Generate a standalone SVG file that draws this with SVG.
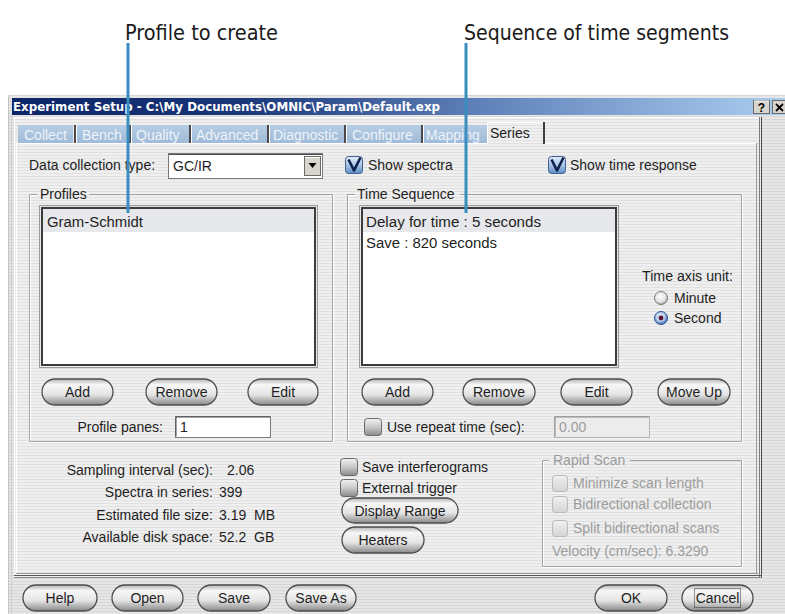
<svg xmlns="http://www.w3.org/2000/svg" width="785" height="614" viewBox="0 0 785 614">
  <defs>
    <!-- pinstripe dialog background -->
    <pattern id="stripes" width="4" height="3" patternUnits="userSpaceOnUse">
      <rect width="4" height="3" fill="#efefef"/>
      <rect y="2" width="4" height="1" fill="#e1e1e1"/>
    </pattern>
    <pattern id="stripesDark" width="4" height="3" patternUnits="userSpaceOnUse">
      <rect width="4" height="3" fill="#e6e6e6"/>
      <rect y="2" width="4" height="1" fill="#d6d6d6"/>
    </pattern>
    <linearGradient id="titleGrad" x1="0" y1="0" x2="1" y2="0">
      <stop offset="0" stop-color="#0c2468"/>
      <stop offset="0.3" stop-color="#1b3779"/>
      <stop offset="0.6" stop-color="#5f80b8"/>
      <stop offset="1" stop-color="#abcdf0"/>
    </linearGradient>
    <linearGradient id="btnGrad" x1="0" y1="0" x2="0" y2="1">
      <stop offset="0" stop-color="#b4b4b4"/>
      <stop offset="0.22" stop-color="#f7f7f7"/>
      <stop offset="0.6" stop-color="#e4e4e4"/>
      <stop offset="1" stop-color="#888888"/>
    </linearGradient>
    <linearGradient id="boxGrad" x1="0" y1="0" x2="0" y2="1">
      <stop offset="0" stop-color="#f2f2f2"/>
      <stop offset="0.5" stop-color="#c9c9c9"/>
      <stop offset="1" stop-color="#8a8a8a"/>
    </linearGradient>
    <linearGradient id="boxOffGrad" x1="0" y1="0" x2="0" y2="1">
      <stop offset="0" stop-color="#f0f0f0"/>
      <stop offset="1" stop-color="#d4d4d4"/>
    </linearGradient>
    <linearGradient id="checkGrad" x1="0" y1="0" x2="0" y2="1">
      <stop offset="0" stop-color="#e2eefa"/>
      <stop offset="0.5" stop-color="#a9c6e6"/>
      <stop offset="1" stop-color="#5d8cc4"/>
    </linearGradient>
    <linearGradient id="tabGrad" x1="0" y1="0" x2="0" y2="1">
      <stop offset="0" stop-color="#b7cde4"/>
      <stop offset="1" stop-color="#9fbbd9"/>
    </linearGradient>
    <radialGradient id="radioOff" cx="0.45" cy="0.4" r="0.6">
      <stop offset="0" stop-color="#ffffff"/>
      <stop offset="0.7" stop-color="#e2e2e2"/>
      <stop offset="1" stop-color="#9a9a9a"/>
    </radialGradient>
    <radialGradient id="radioOn" cx="0.45" cy="0.4" r="0.6">
      <stop offset="0" stop-color="#eef4fc"/>
      <stop offset="0.55" stop-color="#b8cff0"/>
      <stop offset="1" stop-color="#3a66b0"/>
    </radialGradient>
  </defs>
  <style>
    text { font-family: "Liberation Sans", Arial, sans-serif; font-size: 14px; fill: #1e1e1e; }
    .callout { font-family: "Liberation Sans Narrow", "DejaVu Sans Condensed", "Liberation Sans", sans-serif; font-size: 21px; fill: #1a1a1a; }
    .title { font-family: "DejaVu Sans", Verdana, sans-serif; font-weight: bold; font-size: 12.5px; fill: #ffffff; }
    .tab rect { fill: url(#tabGrad); }
    .tab text { fill: #eef3f9; }
    .sep { stroke: #4a4a4a; stroke-width: 2; }
    .sepHi { stroke: #ffffff; stroke-width: 1; }
    .btn .face { fill: url(#btnGrad); stroke: #4e4e4e; stroke-width: 1.3; }
    .btn text { text-anchor: middle; }
    .focus { fill: none; stroke: #333333; stroke-width: 1; stroke-dasharray: 1 1; }
    .box { fill: url(#boxGrad); stroke: #6a6a6a; stroke-width: 1; }
    .boxOff { fill: url(#boxOffGrad); stroke: #b9b9b9; stroke-width: 1; }
    .etch { fill: none; stroke: #a2a2a2; stroke-width: 1; }
    .etchHi { fill: none; stroke: #ffffff; stroke-width: 1; }
    .list { fill: #ffffff; stroke: #3c3c3c; stroke-width: 2; }
    .listOuter { fill: none; stroke: #9a9a9a; stroke-width: 1; }
    .field { fill: #ffffff; stroke: #7a7a7a; stroke-width: 1; }
    .disabled { fill: #9c9c9c; }
    .link { stroke: #3a8dbf; stroke-width: 3; fill: none; }
    .row { fill: #e7e8eb; }
  </style>

  <!-- page -->
  <rect width="785" height="614" fill="#ffffff"/>

  <!-- window body -->
  <g id="window">
    <rect x="8" y="95" width="777" height="519" fill="url(#stripesDark)"/>
    <line x1="8.5" y1="95" x2="8.5" y2="614" stroke="#c4c4c4"/>
    <line x1="11.5" y1="115" x2="11.5" y2="614" stroke="#cfcfcf"/>
    <rect x="12" y="98" width="773" height="17" fill="url(#titleGrad)"/>
    <text class="title" x="13" y="111" textLength="427" lengthAdjust="spacingAndGlyphs">Experiment Setup - C:\My Documents\OMNIC\Param\Default.exp</text>
    <!-- help / close buttons -->
    <rect x="753.5" y="100.5" width="16" height="13" fill="#d8d5ce" stroke="#6a6a6a"/>
    <line x1="754" y1="101" x2="769" y2="101" stroke="#ffffff"/>
    <text x="761.5" y="112" style="font-weight:bold;font-size:12px;text-anchor:middle;fill:#000">?</text>
    <rect x="772.5" y="100.5" width="16" height="13" fill="#d8d5ce" stroke="#6a6a6a"/>
    <path d="M776,104 L783,111 M783,104 L776,111" stroke="#000" stroke-width="1.8"/>
  </g>

  <!-- tab frame -->
  <g id="frame">
    <rect x="14" y="117" width="748" height="461" fill="url(#stripes)"/>
    <line x1="14" y1="117.5" x2="760" y2="117.5" stroke="#ffffff"/>
    <line x1="14.5" y1="117" x2="14.5" y2="578" stroke="#ffffff"/>
    <line x1="759.5" y1="117" x2="759.5" y2="578" stroke="#7c7c7c"/>
    <line x1="761.5" y1="117" x2="761.5" y2="578" stroke="#4a4a4a"/>
    <!-- panel -->
    <line x1="16.5" y1="143" x2="16.5" y2="575" stroke="#ffffff"/>
    <line x1="16" y1="143.5" x2="488" y2="143.5" stroke="#ffffff"/>
    <line x1="544" y1="143.5" x2="756" y2="143.5" stroke="#ffffff"/>
    <line x1="756.5" y1="143" x2="756.5" y2="574" stroke="#9a9a9a"/>
    <line x1="16" y1="573.5" x2="758" y2="573.5" stroke="#9a9a9a"/>
    <line x1="14" y1="575.5" x2="762" y2="575.5" stroke="#5a5a5a"/>
    <line x1="14" y1="577.5" x2="762" y2="577.5" stroke="#8a8a8a"/>
  </g>

  <!-- tabs -->
  <g id="tabs">
    <g class="tab" id="tab-collect"><rect x="18" y="125" width="55" height="18"/><text x="24" y="140">Collect</text></g>
    <g class="tab" id="tab-bench"><rect x="77" y="125" width="51" height="18"/><text x="82" y="140">Bench</text></g>
    <g class="tab" id="tab-quality"><rect x="132" y="125" width="57" height="18"/><text x="136" y="140">Quality</text></g>
    <g class="tab" id="tab-advanced"><rect x="192" y="125" width="75" height="18"/><text x="196" y="140">Advanced</text></g>
    <g class="tab" id="tab-diagnostic"><rect x="270" y="125" width="74" height="18"/><text x="273" y="140">Diagnostic</text></g>
    <g class="tab" id="tab-configure"><rect x="347" y="125" width="74" height="18"/><text x="352" y="140">Configure</text></g>
    <g class="tab" id="tab-mapping"><rect x="424" y="125" width="63" height="18"/><text x="426" y="140">Mapping</text></g>
    <path class="sep" d="M75,125 V143 M130,125 V143 M190,125 V143 M268,125 V143 M345,125 V143 M422,125 V143"/>
    <path class="sepHi" d="M76.5,125 V143 M131.5,125 V143 M191.5,125 V143 M269.5,125 V143 M346.5,125 V143 M423.5,125 V143"/>
    <g id="tab-series">
      <rect x="487" y="122" width="57" height="23" fill="url(#stripes)"/>
      <path d="M487.5,145 V122.5 H543" fill="none" stroke="#ffffff"/>
      <line x1="544" y1="122" x2="544" y2="144" stroke="#3e3e3e" stroke-width="2"/>
      <text x="490" y="138">Series</text>
    </g>
  </g>

  <!-- top row -->
  <g id="data-type">
    <text x="29" y="170">Data collection type:</text>
    <rect class="field" x="168.5" y="153.5" width="154" height="25"/>
    <line x1="169" y1="154.5" x2="322" y2="154.5" stroke="#4a4a4a"/>
    <text x="173" y="171">GC/IR</text>
    <rect x="304.5" y="156.5" width="16" height="19" fill="#d8d5ce" stroke="#6a6a6a"/>
    <line x1="305" y1="157.5" x2="320" y2="157.5" stroke="#ffffff"/>
    <path d="M308.5,163 H316.5 L312.5,168 Z" fill="#000"/>
  </g>
  <g id="show-spectra">
    <rect x="345.5" y="156.5" width="17" height="17" rx="3" fill="url(#checkGrad)" stroke="#3f5f8e"/>
    <path d="M348.5,159.5 L354,170.5 L360.5,157.5" fill="none" stroke="#0e1f4a" stroke-width="2.6" stroke-linejoin="round"/>
    <text x="368" y="170">Show spectra</text>
  </g>
  <g id="show-time-response">
    <rect x="548.5" y="156.5" width="17" height="17" rx="3" fill="url(#checkGrad)" stroke="#3f5f8e"/>
    <path d="M551.5,159.5 L557,170.5 L563.5,157.5" fill="none" stroke="#0e1f4a" stroke-width="2.6" stroke-linejoin="round"/>
    <text x="570" y="170">Show time response</text>
  </g>

  <!-- Profiles group -->
  <g id="profiles">
    <path class="etch" d="M37,194.5 H29.5 V441.5 H332.5 V194.5 H89"/>
    <path class="etchHi" d="M37,195.5 H30.5 V440.5 M29,442.5 H333.5 V194"/>
    <text x="40" y="199">Profiles</text>
    <rect class="listOuter" x="39.5" y="205.5" width="278" height="162"/>
    <rect class="list" x="42" y="208" width="273" height="157"/>
    <rect class="row" x="43" y="209" width="271" height="23"/>
    <text x="47" y="227" textLength="96" lengthAdjust="spacingAndGlyphs">Gram-Schmidt</text>
  </g>
  <g id="profiles-add" class="btn"><rect class="face" x="42" y="379" width="71" height="26" rx="13"/><text x="77.5" y="397">Add</text></g>
  <g id="profiles-remove" class="btn"><rect class="face" x="146" y="379" width="71" height="26" rx="13"/><text x="181.5" y="397">Remove</text></g>
  <g id="profiles-edit" class="btn"><rect class="face" x="248" y="379" width="70" height="26" rx="13"/><text x="283" y="397">Edit</text></g>
  <g id="profile-panes">
    <text x="163" y="432" style="text-anchor:end">Profile panes:</text>
    <rect class="field" x="175.5" y="416.5" width="95" height="21"/>
    <path d="M176,436.5 V417 H270" fill="none" stroke="#4a4a4a"/>
    <text x="180" y="432">1</text>
  </g>

  <!-- Time Sequence group -->
  <g id="time-sequence">
    <path class="etch" d="M355,194.5 H347.5 V441.5 H741.5 V194.5 H460"/>
    <path class="etchHi" d="M355,195.5 H348.5 V440.5 M347,442.5 H742.5 V194"/>
    <text x="357" y="199">Time Sequence</text>
    <rect class="listOuter" x="359.5" y="205.5" width="259" height="162"/>
    <rect class="list" x="362" y="208" width="254" height="157"/>
    <rect class="row" x="363" y="209" width="252" height="23"/>
    <text x="366" y="227" textLength="175" lengthAdjust="spacingAndGlyphs">Delay for time : 5 seconds</text>
    <text x="366" y="248" textLength="131" lengthAdjust="spacingAndGlyphs">Save : 820 seconds</text>
  </g>
  <g id="time-axis-unit">
    <text x="642" y="281" textLength="91" lengthAdjust="spacingAndGlyphs">Time axis unit:</text>
    <circle cx="661" cy="298" r="6.5" fill="url(#radioOff)" stroke="#7a7a7a"/>
    <text x="674" y="303">Minute</text>
    <circle cx="661" cy="318" r="6.5" fill="url(#radioOn)" stroke="#2d4f8e"/>
    <circle cx="661" cy="318" r="2.4" fill="#5a1636"/>
    <text x="674" y="323">Second</text>
  </g>
  <g id="seq-add" class="btn"><rect class="face" x="362" y="379" width="71" height="26" rx="13"/><text x="397.5" y="397">Add</text></g>
  <g id="seq-remove" class="btn"><rect class="face" x="463" y="379" width="72" height="26" rx="13"/><text x="499" y="397">Remove</text></g>
  <g id="seq-edit" class="btn"><rect class="face" x="561" y="379" width="71" height="26" rx="13"/><text x="596.5" y="397">Edit</text></g>
  <g id="seq-move-up" class="btn"><rect class="face" x="658" y="379" width="72" height="26" rx="13"/><text x="694" y="397">Move Up</text></g>
  <g id="repeat-time">
    <rect class="box" x="364.5" y="418.5" width="17" height="17" rx="3"/>
    <text x="387" y="432">Use repeat time (sec):</text>
    <rect x="554.5" y="416.5" width="95" height="21" fill="#ececec" stroke="#b4b4b4"/>
    <path d="M555,436.5 V417 H649" fill="none" stroke="#8a8a8a"/>
    <text class="disabled" x="559" y="432">0.00</text>
  </g>

  <!-- summary values -->
  <g id="summary">
    <text x="213" y="475" style="text-anchor:end">Sampling interval (sec):</text>
    <text x="227" y="475">2.06</text>
    <text x="213" y="497" style="text-anchor:end">Spectra in series:</text>
    <text x="219" y="497">399</text>
    <text x="213" y="520" style="text-anchor:end">Estimated file size:</text>
    <text x="219" y="520">3.19</text>
    <text x="254" y="520">MB</text>
    <text x="213" y="542" style="text-anchor:end">Available disk space:</text>
    <text x="219" y="542">52.2</text>
    <text x="254" y="542">GB</text>
  </g>

  <!-- middle options -->
  <g id="save-interferograms">
    <rect class="box" x="340.5" y="458.5" width="17" height="17" rx="3"/>
    <text x="362" y="472">Save interferograms</text>
  </g>
  <g id="external-trigger">
    <rect class="box" x="340.5" y="479.5" width="17" height="17" rx="3"/>
    <text x="362" y="493">External trigger</text>
  </g>
  <g id="display-range" class="btn"><rect class="face" x="342" y="498" width="116" height="25" rx="12.5"/><text x="400" y="515.5">Display Range</text></g>
  <g id="heaters" class="btn"><rect class="face" x="342" y="527" width="82" height="26" rx="13"/><text x="383" y="545">Heaters</text></g>

  <!-- Rapid Scan group (disabled) -->
  <g id="rapid-scan">
    <path class="etch" d="M549,460.5 H542.5 V566.5 H741.5 V460.5 H630" stroke="#b0b0b0"/>
    <path class="etchHi" d="M549,461.5 H543.5 V565.5 M542,567.5 H742.5 V460"/>
    <text class="disabled" x="553" y="465">Rapid Scan</text>
    <rect class="boxOff" x="552.5" y="475.5" width="15" height="16" rx="3"/>
    <text class="disabled" x="573" y="488">Minimize scan length</text>
    <rect class="boxOff" x="552.5" y="496.5" width="15" height="16" rx="3"/>
    <text class="disabled" x="573" y="509">Bidirectional collection</text>
    <rect class="boxOff" x="552.5" y="520.5" width="15" height="16" rx="3"/>
    <text class="disabled" x="573" y="533">Split bidirectional scans</text>
    <text class="disabled" x="552" y="556">Velocity (cm/sec): 6.3290</text>
  </g>

  <!-- dialog buttons -->
  <g id="help" class="btn"><rect class="face" x="23" y="585" width="74" height="26" rx="13"/><text x="60" y="603">Help</text></g>
  <g id="open" class="btn"><rect class="face" x="112" y="585" width="71" height="26" rx="13"/><text x="147.5" y="603">Open</text></g>
  <g id="save" class="btn"><rect class="face" x="198" y="585" width="72" height="26" rx="13"/><text x="234" y="603">Save</text></g>
  <g id="save-as" class="btn"><rect class="face" x="286" y="585" width="70" height="26" rx="13"/><text x="321" y="603">Save As</text></g>
  <g id="ok" class="btn"><rect class="face" x="595" y="585" width="72" height="26" rx="13"/><text x="631" y="603">OK</text></g>
  <g id="cancel" class="btn">
    <rect class="face" x="682" y="585" width="71" height="26" rx="13"/>
    <text x="717.5" y="603">Cancel</text>
    <rect class="focus" x="694.5" y="588.5" width="46" height="19"/>
  </g>

  <!-- callout labels -->
  <g id="label-profile">
    <text class="callout" x="125" y="40" textLength="153" lengthAdjust="spacingAndGlyphs">Profile to create</text>
  </g>
  <g id="label-sequence">
    <text class="callout" x="464" y="40" textLength="265" lengthAdjust="spacingAndGlyphs">Sequence of time segments</text>
  </g>

  <!-- connectors -->
  <g id="connectors">
    <line class="link" x1="128" y1="43" x2="128" y2="213"/>
    <line class="link" x1="466" y1="43" x2="466" y2="213"/>
  </g>
</svg>
